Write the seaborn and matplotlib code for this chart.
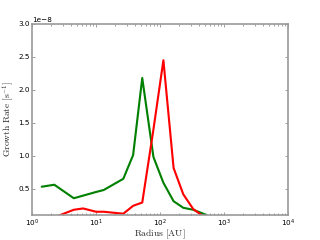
import numpy as np
import pandas as pd
import matplotlib
matplotlib.use("Agg")
import matplotlib.pyplot as plt
import seaborn as sns

# radii sampled (AU) and growth rates in units of 1e-8 s^-1
radius = [1.42, 2.23, 4.5, 6.3, 10.0, 13.2, 26.7, 38.0, 52.8, 79.0, 113.0, 163.0, 231.0, 331.0, 535.0]
green_rate = [0.53, 0.56, 0.355, 0.395, 0.45, 0.48, 0.65, 1.01, 2.18, 0.98, 0.59, 0.31, 0.21, 0.18, 0.10]
red_rate = [0.04, 0.065, 0.18, 0.20, 0.15, 0.15, 0.12, 0.24, 0.29, 1.40, 2.45, 0.815, 0.415, 0.19, 0.045]

df = pd.concat([
    pd.DataFrame({"radius": radius, "rate": np.array(green_rate) * 1e-8, "series": "green"}),
    pd.DataFrame({"radius": radius, "rate": np.array(red_rate) * 1e-8, "series": "red"}),
], ignore_index=True)

sns.set_style("ticks")
plt.rcParams["mathtext.fontset"] = "cm"
plt.rcParams["font.family"] = ["DejaVu Sans"]

fig = plt.figure(figsize=(8, 6), dpi=40)
ax = fig.add_axes([0.1, 0.104, 0.8, 0.796])

sns.lineplot(data=df, x="radius", y="rate", hue="series",
             palette={"green": "#008000", "red": "#ff0000"},
             linewidth=3.8, legend=False, ax=ax, sort=False)

ax.set_xscale("log")
ax.set_xlim(1, 1e4)
ax.set_ylim(1e-9, 3e-8)
ax.set_yticks(np.arange(0.5, 3.01, 0.5) * 1e-8)
ax.ticklabel_format(axis="y", style="sci", scilimits=(0, 0))

for s in ax.spines.values():
    s.set_color("#999999")
    s.set_linewidth(3)
ax.tick_params(which="both", direction="in", top=True, right=True, labelsize=13,
               color="#555555", labelcolor="black")
ax.tick_params(which="major", length=6, width=1)
ax.tick_params(which="minor", length=3, width=1)
ax.tick_params(axis="x", pad=4)
ax.yaxis.get_offset_text().set_fontsize(13)

ax.set_xlabel(r"$\mathrm{Radius\ [AU]}$", fontsize=17, labelpad=-1)
ax.set_ylabel(r"$\mathrm{Growth\ Rate\ [s^{-1}]}$", fontsize=17, labelpad=4)

fig.savefig("out.png", dpi=40)
